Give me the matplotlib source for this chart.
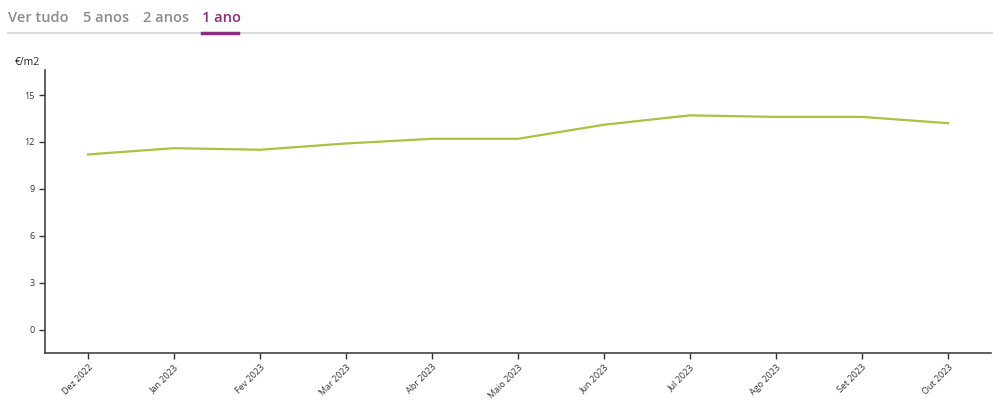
import matplotlib.pyplot as plt
import matplotlib.lines as mlines

# dados
months = ['Dez 2022', 'Jan 2023', 'Fev 2023', 'Mar 2023', 'Abr 2023', 'Maio 2023',
          'Jun 2023', 'Jul 2023', 'Ago 2023', 'Set 2023', 'Out 2023']
prices = [11.2, 11.6, 11.5, 11.9, 12.2, 12.2, 13.1, 13.7, 13.6, 13.6, 13.2]
yticks = [0, 3, 6, 9, 12, 15]
tabs = ['Ver tudo', '5 anos', '2 anos', '1 ano']

plt.rcParams['font.family'] = ['Open Sans', 'DejaVu Sans']

fig = plt.figure(figsize=(10, 4), dpi=100)
ax = fig.add_axes([0.045, 0.1175, 0.946, 0.7075])

x = list(range(len(months)))
ax.plot(x, prices, color='#a9c23f', lw=1.6, solid_joinstyle='round')

ax.set_xlim(-0.5, len(months) - 0.5)
ax.set_ylim(-1.5, 16.6)
ax.set_yticks(yticks)
ax.set_xticks(x)
ax.set_xticklabels(months, rotation=45, ha='right', rotation_mode='anchor')
ax.tick_params(axis='both', labelsize=6.5, colors='#333333', length=4, width=1)
ax.tick_params(axis='x', pad=3)
for s in ['top', 'right']:
    ax.spines[s].set_visible(False)
for s in ['left', 'bottom']:
    ax.spines[s].set_color('#444444')
    ax.spines[s].set_linewidth(1.2)

fig.text(0.015, 0.843, '€/m2', fontsize=7.5, color='#222222', va='center')

# abas no topo
xs = [0.008, 0.083, 0.143, 0.202]
for i, (t, xp) in enumerate(zip(tabs, xs)):
    col = '#8b2d7d' if t == '1 ano' else '#8a8a8a'
    fig.text(xp, 0.955, t, fontsize=10.5, fontweight='semibold', color=col, va='center')
fig.add_artist(mlines.Line2D([0.008, 0.992], [0.918, 0.918], color='#dddddd', lw=1.5,
                             transform=fig.transFigure))
fig.add_artist(mlines.Line2D([0.202, 0.238], [0.918, 0.918], color='#8b2d7d', lw=2.5,
                             transform=fig.transFigure))

fig.savefig('out.png', dpi=100)
